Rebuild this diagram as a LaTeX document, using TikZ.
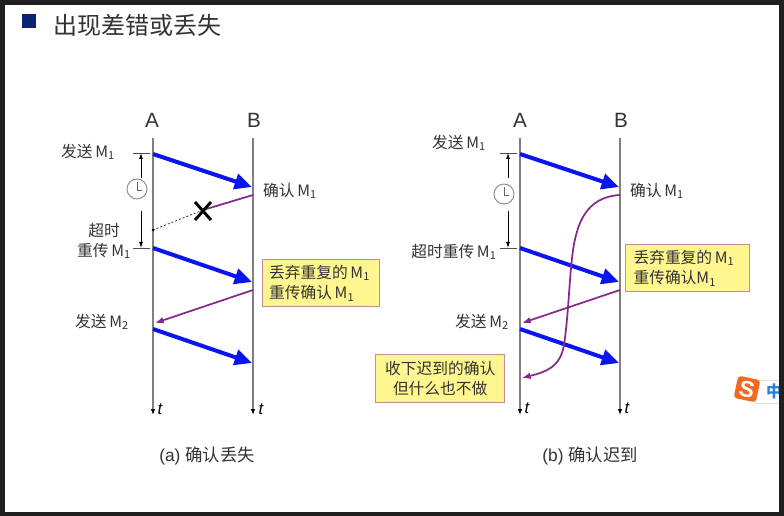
\documentclass[tikz,border=0pt]{standalone}
\usepackage{fontspec}
\setmainfont{Liberation Sans}
\newfontfamily\cjk{Noto Sans CJK SC}
\usetikzlibrary{arrows.meta}
\definecolor{txt}{HTML}{333333}
\definecolor{axisc}{HTML}{808080}
\definecolor{sendc}{HTML}{0A14F0}
\definecolor{ackc}{HTML}{852A8A}
\definecolor{boxfill}{HTML}{FFF68F}
\definecolor{boxline}{HTML}{C88A9A}
\definecolor{navy}{HTML}{0A2472}
\definecolor{logoc}{HTML}{F26A21}
\definecolor{zhc}{HTML}{2A7FD0}
\newcommand{\Mi}{\,M\textsubscript{1}}
\newcommand{\Mii}{\,M\textsubscript{2}}
\tikzset{
  x=0.75pt,y=-0.75pt,
  lbl/.style={font=\cjk\fontsize{11.8}{14}\selectfont,text=txt,inner sep=0pt},
  headtxt/.style={font=\fontsize{15.5}{18}\selectfont,text=txt,inner sep=0pt},
  tlbl/.style={font=\itshape\fontsize{12.5}{13}\selectfont,inner sep=0pt},
  timeline/.style={draw=axisc,line width=0.9pt},
  endtip/.style={draw=axisc,line width=0.9pt,-{Latex[length=4.5pt,width=3.5pt,black]}},
  sendline/.style={draw=sendc,line width=3pt,-{Triangle[length=13pt,width=11.5pt]}},
  ackline/.style={draw=ackc,line width=1.3pt,-{Latex[length=6.5pt,width=5pt]}},
  tickline/.style={draw=black!70,line width=0.5pt},
  dimline/.style={draw=black,line width=0.6pt,-{Latex[length=4.5pt,width=3pt]}},
  clockface/.style={circle,draw=black!45,fill=white,line width=0.7pt,minimum size=15pt,inner sep=0pt},
  notebox/.style={draw=boxline,fill=boxfill,line width=0.8pt,inner sep=0pt,align=left,font=\cjk\fontsize{11.8}{15.5}\selectfont,text=txt},
  captxt/.style={font=\cjk\fontsize{13}{15}\selectfont,text=txt,inner sep=0pt}
}
\begin{document}
\begin{tikzpicture}
\useasboundingbox (0,0) rectangle (784,516);
\fill[black!88] (0,0) rectangle (784,516);
\fill[white] (5,5) rectangle (779,512);
% title
\node[fill=navy,minimum size=10.5pt,inner sep=0pt] (bullet) at (29,21) {};
\node[anchor=west,font=\cjk\fontsize{18}{20}\selectfont,text=txt,inner sep=0pt] (title) at (53,25) {出现差错或丢失};

% timelines
\foreach \n/\x in {la/153,lb/253,ra/520,rb/620}{
  \coordinate (\n top) at (\x,138);
  \coordinate (\n end) at (\x,415);
  \draw[endtip] (\n top) -- (\n end);
}
\node[headtxt] (lA) at (152,120) {A};
\node[headtxt] (lB) at (254,120) {B};
\node[headtxt] (rA) at (520,120) {A};
\node[headtxt] (rB) at (621,120) {B};
\node[tlbl] (lt1) at (160,409) {t};
\node[tlbl] (lt2) at (261,409) {t};
\node[tlbl] (rt1) at (527,408) {t};
\node[tlbl] (rt2) at (627,408) {t};

% left arrows
\coordinate (l1s) at (153,154); \coordinate (l1e) at (252,187);
\coordinate (l2s) at (153,248); \coordinate (l2e) at (252,282);
\coordinate (l3s) at (153,329); \coordinate (l3e) at (252,363);
\coordinate (la1) at (253,195); \coordinate (lx) at (203,210); \coordinate (ld) at (153,230);
\coordinate (la2s) at (253,290); \coordinate (la2e) at (155,323);
\draw[sendline] (l1s) -- (l1e);
\draw[sendline] (l2s) -- (l2e);
\draw[sendline] (l3s) -- (l3e);
\draw[ackc,line width=1.3pt] (la1) -- (lx);
\draw[black!80,dash pattern=on 1.5pt off 1.5pt,line width=0.6pt] (lx) -- (ld);
\draw[black,line width=2.2pt] (195,202) -- (211,220) (211,202) -- (195,220);
\fill[black] (ld) circle (1pt);
\draw[ackline] (la2s) -- (la2e);
\draw[tickline] (133,153) -- (150,153);
\draw[tickline] (133,248) -- (150,248);
\draw[dimline] (141,178) -- (141,153);
\draw[dimline] (141,211) -- (141,248);
\node[clockface] (lclock) at (137,189) {};
\draw[black!60,line width=0.6pt] (137,182) -- (137,190) -- (142,190);

\node[lbl] (ls1) at (88,152) {发送\Mi};
\node[lbl] (lc1) at (290,191) {确认\Mi};
\node[lbl] (lto) at (104,231) {超时};
\node[lbl] (lr1) at (104,251) {重传\Mi};
\node[lbl] (ls2) at (102,322) {发送\Mii};
\node[notebox,minimum width=88pt,minimum height=35pt,anchor=north west,text width=88pt] (lnote) at (262,259) {\hspace*{5pt}丢弃重复的\Mi\\\hspace*{5pt}重传确认\Mi};
\node[captxt] (lcap) at (207,456) {\fontspec{Liberation Sans}(a)~\cjk 确认丢失};

% right arrows
\coordinate (r1s) at (520,154); \coordinate (r1e) at (619,187);
\coordinate (r2s) at (520,248); \coordinate (r2e) at (619,282);
\coordinate (r3s) at (520,329); \coordinate (r3e) at (619,363);
\coordinate (ra2s) at (620,290); \coordinate (ra2e) at (522,323);
\draw[sendline] (r1s) -- (r1e);
\draw[sendline] (r2s) -- (r2e);
\draw[sendline] (r3s) -- (r3e);
\draw[ackline] (ra2s) -- (ra2e);
\draw[ackline] (620,195) .. controls (585,197) and (577,225) .. (573,250)
  .. controls (569,280) and (569,310) .. (564,345)
  .. controls (560,368) and (545,372) .. (522,378);
\draw[tickline] (500,153) -- (517,153);
\draw[tickline] (500,248) -- (517,248);
\draw[dimline] (508,178) -- (508,153);
\draw[dimline] (508,211) -- (508,248);
\node[clockface] (rclock) at (504,194) {};
\draw[black!60,line width=0.6pt] (504,187) -- (504,195) -- (509,195);

\node[lbl] (rs1) at (459,143) {发送\Mi};
\node[lbl] (rc1) at (657,191) {确认\Mi};
\node[lbl] (rr1) at (454,252) {超时重传\Mi};
\node[lbl] (rs2) at (482,322) {发送\Mii};
\node[notebox,minimum width=93pt,minimum height=35pt,anchor=north west,text width=93pt] (rnote) at (625,244) {\hspace*{6pt}丢弃重复的\Mi\\\hspace*{6pt}重传确认M\textsubscript{1}};
\node[notebox,minimum width=97pt,minimum height=36pt,anchor=north west,align=center,text width=97pt] (rnote2) at (375,354) {收下迟到的确认\\但什么也不做};
\node[captxt] (rcap) at (590,456) {\fontspec{Liberation Sans}(b)~\cjk 确认迟到};

% input-method badge
\draw[draw=black!12,fill=white,line width=0.6pt] (755,380) rectangle (779,403);
\node[font=\cjk\bfseries\fontsize{12}{14}\selectfont,text=zhc,inner sep=0pt] (zh) at (774,391) {中};
\node[rotate=-12,fill=logoc,rounded corners=2.5pt,minimum size=17pt,inner sep=0pt,font=\bfseries\fontsize{17}{18}\selectfont,text=white] (logo) at (747,389) {S};
\fill[black!88] (779,370) rectangle (784,410);
\end{tikzpicture}
\end{document}
